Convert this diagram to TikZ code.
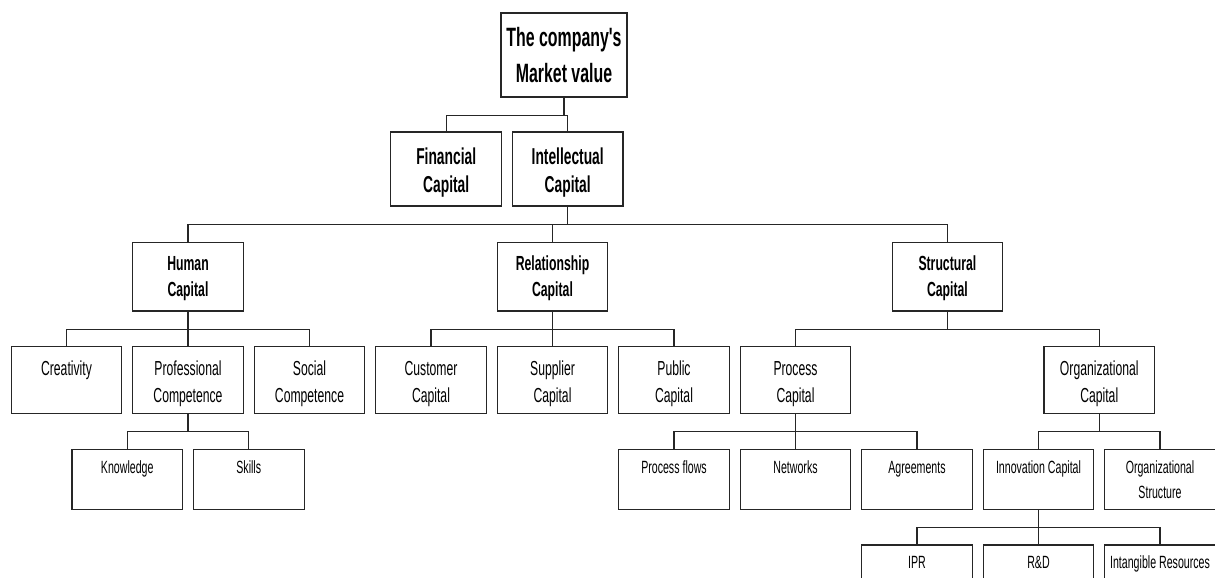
\documentclass[tikz,border=0pt]{standalone}
\usepackage{fontspec}
\newfontfamily\chartfont[FakeStretch=0.6,Ligatures=TeXOff]{Liberation Sans}
% centred lines whose reference point is the first baseline
\newcommand\lines[1]{\vtop{\halign{\hfil##\hfil\cr#1\crcr}}}
\begin{document}
\begin{tikzpicture}[x=1pt,y=-1pt,
  unit/.style={draw=black!85, line width=1.1pt, rectangle, inner sep=0pt, outer sep=0pt,
               minimum width=110.6pt, anchor=north},
  lvl0/.style={unit, minimum width=126pt, text height=33.7pt, text depth=50.3pt,
               font={\chartfont\bfseries\fontsize{26.5}{36}\selectfont}},
  lvl1/.style={unit, text height=32pt, text depth=42pt,
               font={\chartfont\bfseries\fontsize{23}{28}\selectfont}},
  lvl2/.style={unit, text height=28pt, text depth=40.3pt,
               font={\chartfont\bfseries\fontsize{20.4}{25.7}\selectfont}},
  lvl3/.style={unit, text height=28.3pt, text depth=38.3pt,
               font={\chartfont\fontsize{20.3}{27.7}\selectfont}},
  lvl4/.style={unit, text height=23.7pt, text depth=36.3pt,
               font={\chartfont\fontsize{17.7}{25}\selectfont}},
  lvl5/.style={unit, text height=23.3pt, text depth=40pt,
               font={\chartfont\fontsize{17.7}{25}\selectfont}},
  link/.style={draw=black!85, line width=1.1pt}
]
\useasboundingbox (0,0) rectangle (1215,578);
\clip (0,0) rectangle (1215,578);

% level 0 and 1
\node[lvl0] (mv) at (564,13) {\lines{The company's\cr Market value}};
\node[lvl1] (fin) at (446.2,132) {\lines{Financial\cr Capital}};
\node[lvl1] (ic) at (567.7,132) {\lines{Intellectual\cr Capital}};

% level 2
\node[lvl2] (hc) at (188,242.7) {\lines{Human\cr Capital}};
\node[lvl2] (rc) at (552.5,242.7) {\lines{Relationship\cr Capital}};
\node[lvl2] (sc) at (947.4,242.7) {\lines{Structural\cr Capital}};

% level 3
\node[lvl3] (crea) at (66.5,346.7) {\lines{Creativity}};
\node[lvl3] (prof) at (188,346.7) {\lines{Professional\cr Competence}};
\node[lvl3] (soc) at (309.5,346.7) {\lines{Social\cr Competence}};
\node[lvl3] (cust) at (431,346.7) {\lines{Customer\cr Capital}};
\node[lvl3] (supp) at (552.5,346.7) {\lines{Supplier\cr Capital}};
\node[lvl3] (pub) at (674,346.7) {\lines{Public\cr Capital}};
\node[lvl3] (proc) at (795.5,346.7) {\lines{Process\cr Capital}};
\node[lvl3] (orgc) at (1099.25,346.7) {\lines{Organizational\cr Capital}};

% level 4
\node[lvl4] (know) at (127.25,449.3) {\lines{Knowledge}};
\node[lvl4] (skill) at (248.75,449.3) {\lines{Skills}};
\node[lvl4] (flow) at (674,449.3) {\lines{Process flows}};
\node[lvl4] (net) at (795.5,449.3) {\lines{Networks}};
\node[lvl4] (agr) at (917,449.3) {\lines{Agreements}};
\node[lvl4] (inno) at (1038.5,449.3) {\lines{Innovation Capital}};
\node[lvl4] (orgs) at (1160,449.3) {\lines{Organizational\cr Structure}};

% level 5
\node[lvl5] (ipr) at (917,545) {\lines{IPR}};
\node[lvl5] (rd) at (1038.5,545) {\lines{R\&D}};
\node[lvl5] (intang) at (1160,545) {\lines{Intangible Resources}};

% connectors: down to a bus, across, down to each child
\foreach \p/\c in {mv/fin, mv/ic,
                   ic/hc, ic/rc, ic/sc,
                   hc/crea, hc/prof, hc/soc,
                   rc/cust, rc/supp, rc/pub,
                   sc/proc, sc/orgc,
                   prof/know, prof/skill,
                   proc/flow, proc/net, proc/agr,
                   orgc/inno, orgc/orgs,
                   inno/ipr, inno/rd, inno/intang}
  \draw[link] (\p.south) -- ++(0,18.2) -| (\c.north);
\end{tikzpicture}
\end{document}
